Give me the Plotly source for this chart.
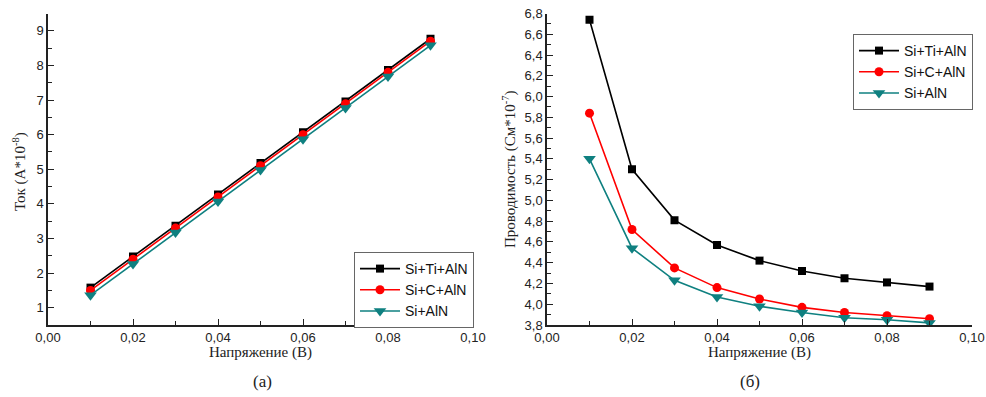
import plotly.graph_objects as go

voltage = [0.01, 0.02, 0.03, 0.04, 0.05, 0.06, 0.07, 0.08, 0.09]
series_names = ["Si+Ti+AlN", "Si+C+AlN", "Si+AlN"]

current_ti = [1.58, 2.48, 3.37, 4.27, 5.18, 6.07, 6.96, 7.87, 8.77]
current_c = [1.50, 2.40, 3.30, 4.20, 5.10, 6.00, 6.89, 7.80, 8.70]
current_aln = [1.36, 2.26, 3.17, 4.07, 4.98, 5.87, 6.77, 7.68, 8.58]

cond_ti = [6.74, 5.30, 4.81, 4.57, 4.42, 4.32, 4.25, 4.21, 4.17]
cond_c = [5.84, 4.72, 4.35, 4.16, 4.05, 3.97, 3.92, 3.89, 3.86]
cond_aln = [5.40, 4.54, 4.23, 4.07, 3.98, 3.92, 3.87, 3.85, 3.82]

colors = ["#000000", "#ff0000", "#0f8080"]
symbols = ["square", "circle", "triangle-down"]
sizes = [8, 9, 11]

fig = go.Figure()

for i, (name, ys) in enumerate(zip(series_names, [current_ti, current_c, current_aln])):
    fig.add_trace(go.Scatter(
        x=voltage, y=ys, name=name, mode="lines+markers",
        line=dict(color=colors[i], width=1.6),
        marker=dict(symbol=symbols[i], size=sizes[i], color=colors[i]),
        xaxis="x", yaxis="y", legend="legend"))

for i, (name, ys) in enumerate(zip(series_names, [cond_ti, cond_c, cond_aln])):
    fig.add_trace(go.Scatter(
        x=voltage, y=ys, name=name, mode="lines+markers",
        line=dict(color=colors[i], width=1.6),
        marker=dict(symbol=symbols[i], size=sizes[i], color=colors[i]),
        xaxis="x2", yaxis="y2", legend="legend2"))

tickfont = dict(family="Liberation Sans, Arial", size=13, color="#222")
serif = "Liberation Serif, Times New Roman"
titlefont = dict(family=serif, size=15, color="#222")

common_axis = dict(showline=True, linecolor="#222", linewidth=1.5, ticks="inside",
                   ticklen=6, tickwidth=1.2, tickcolor="#222", showgrid=False,
                   zeroline=False, tickfont=tickfont, automargin=False,
                   ticklabeloverflow="allow")

ydom = [(397 - 325) / 397, (397 - 13.5) / 397]

legend_common = dict(xanchor="left", yanchor="top",
                     bordercolor="#666", borderwidth=1, bgcolor="white",
                     font=dict(family="Liberation Sans, Arial", size=14, color="#111"),
                     tracegroupgap=0, itemwidth=40)

fig.update_layout(
    width=986, height=397,
    margin=dict(l=0, r=0, t=0, b=0, autoexpand=False),
    paper_bgcolor="white", plot_bgcolor="white",
    separators=", ",
    xaxis=dict(domain=[48 / 986, 473 / 986], range=[0, 0.1], dtick=0.02, tickformat=".2f",
               anchor="y",
               minor=dict(dtick=0.01, ticks="inside", ticklen=4, tickcolor="#222"),
               **common_axis),
    yaxis=dict(domain=ydom, range=[0.5, 9.5], dtick=1, anchor="x",
               minor=dict(dtick=0.5, ticks="inside", ticklen=4, tickcolor="#222"),
               **common_axis),
    xaxis2=dict(domain=[547 / 986, 972 / 986], range=[0, 0.1], dtick=0.02, tickformat=".2f",
                anchor="y2",
                minor=dict(dtick=0.01, ticks="inside", ticklen=4, tickcolor="#222"),
                **common_axis),
    yaxis2=dict(domain=ydom, range=[3.8, 6.8], dtick=0.2, tickformat=".1f", anchor="x2",
                minor=dict(dtick=0.1, ticks="inside", ticklen=4, tickcolor="#222"),
                **common_axis),
    legend=dict(x=354 / 986, y=1 - 252 / 397, **legend_common),
    legend2=dict(x=853 / 986, y=1 - 34 / 397, **legend_common),
    showlegend=True,
    annotations=[
        dict(text="Напряжение (В)", x=260 / 986, y=1 - 352 / 397, xref="paper", yref="paper",
             xanchor="center", yanchor="middle", showarrow=False, font=titlefont),
        dict(text="Напряжение (В)", x=759 / 986, y=1 - 352 / 397, xref="paper", yref="paper",
             xanchor="center", yanchor="middle", showarrow=False, font=titlefont),
        dict(text="Ток (А*10<sup>-8</sup>)", x=19 / 986, y=1 - 172 / 397, xref="paper", yref="paper",
             xanchor="center", yanchor="middle", textangle=-90, showarrow=False, font=titlefont),
        dict(text="Проводимость (См*10<sup>-7</sup>)", x=509 / 986, y=1 - 170 / 397, xref="paper",
             yref="paper", xanchor="center", yanchor="middle", textangle=-90, showarrow=False,
             font=titlefont),
        dict(text="(а)", x=262 / 986, y=1 - 381 / 397, xref="paper", yref="paper",
             xanchor="center", yanchor="middle",
             showarrow=False, font=dict(family=serif, size=17, color="#222")),
        dict(text="(б)", x=750 / 986, y=1 - 381 / 397, xref="paper", yref="paper",
             xanchor="center", yanchor="middle",
             showarrow=False, font=dict(family=serif, size=17, color="#222")),
    ],
)

fig.write_html("out.html", config={"displayModeBar": False},
               post_script="document.body.style.margin='0';document.body.style.overflow='hidden';")
